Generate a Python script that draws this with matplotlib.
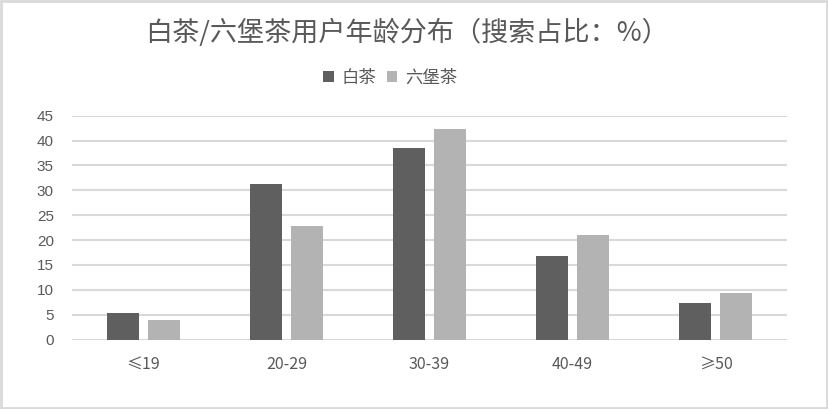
import matplotlib
matplotlib.use("Agg")
import matplotlib.pyplot as plt
import numpy as np
from matplotlib.patches import Rectangle

plt.rcParams['font.family'] = ['Noto Sans CJK SC', 'DejaVu Sans']

categories = ["≤19", "20-29", "30-39", "40-49", "≥50"]
series_names = ["白茶", "六堡茶"]
baicha = [5.3, 31.3, 38.5, 16.8, 7.3]
liubao = [3.9, 22.8, 42.3, 21.0, 9.3]
yticks = [0, 5, 10, 15, 20, 25, 30, 35, 40, 45]
title = "白茶/六堡茶用户年龄分布（搜索占比：%）"

dark = "#5f5f5f"
light = "#b3b3b3"
grid = "#d9d9d9"
txt = "#595959"

fig = plt.figure(figsize=(8.29, 4.09), dpi=100)
ax = fig.add_axes([72/829, 1-339.5/409, (787-72)/829, (339.5-115.7)/409])

x = np.arange(len(categories))
w = 0.224
off = 0.143
ax.bar(x - off, baicha, w, color=dark, label=series_names[0], zorder=3)
ax.bar(x + off, liubao, w, color=light, label=series_names[1], zorder=3)

ax.set_xlim(-0.5, len(categories) - 0.5)
ax.set_ylim(0, 45)
ax.set_yticks(yticks)
ax.set_yticklabels([str(v) for v in yticks], fontsize=11, color=txt, family=['Liberation Sans', 'DejaVu Sans'])
ax.set_xticks(x)
ax.set_xticklabels(categories, fontsize=11.5, color=txt)
ax.tick_params(axis='both', length=0)
ax.tick_params(axis='y', pad=13)
ax.tick_params(axis='x', pad=12)
ax.grid(axis='y', color=grid, linewidth=1.5, zorder=0)
for s in ax.spines.values():
    s.set_visible(False)

fig.text(407.5/829, 1-33/409, title, ha='center', va='center', fontsize=19.5, color=txt)

leg = fig.legend(loc='center', bbox_to_anchor=(390/829, 1-78/409), ncol=2, frameon=False,
                 fontsize=12.5, handlelength=0.6, handleheight=0.6, handletextpad=0.45,
                 columnspacing=0.6, borderpad=0, labelcolor=txt)

fig.patches.append(Rectangle((0.001, 0.002), 0.997, 0.995, transform=fig.transFigure,
                             fill=False, edgecolor=grid, linewidth=2))

fig.savefig("out.png", dpi=100, facecolor="white")
